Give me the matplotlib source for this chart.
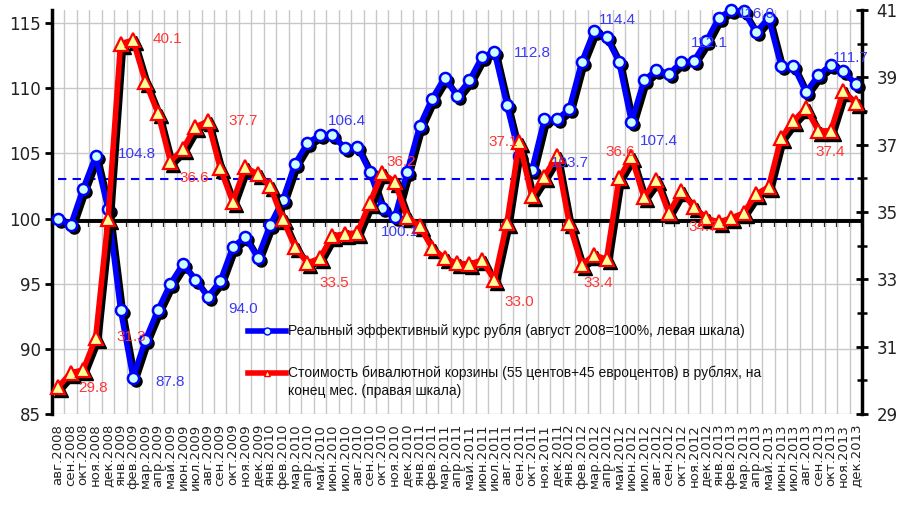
import numpy as np
import matplotlib
matplotlib.use("Agg")
import matplotlib.pyplot as plt
from matplotlib.lines import Line2D
from matplotlib.transforms import offset_copy

plt.rcParams["font.family"] = ["Liberation Sans", "DejaVu Sans"]

# ---------------- data ----------------
MONTHS = ["янв", "фев", "мар", "апр", "май", "июн",
          "июл", "авг", "сен", "окт", "ноя", "дек"]
labels = []
for year in range(2008, 2014):
    for m in MONTHS:
        labels.append(f"{m}.{year}")
labels = labels[7:]  # авг.2008 ... дек.2013

# реальный эффективный курс рубля, авг.2008 = 100 (левая шкала)
reer = [100.0, 99.5, 102.3, 104.8, 100.7, 93.0, 87.8, 90.7, 93.0, 95.0,
        96.5, 95.3, 94.0, 95.2, 97.8, 98.6, 97.0, 99.5, 101.4, 104.2,
        105.8, 106.4, 106.4, 105.4, 105.5, 103.6, 100.8, 100.1, 103.6, 107.1,
        109.2, 110.8, 109.4, 110.6, 112.4, 112.8, 108.7, 104.8, 103.7, 107.6,
        107.6, 108.4, 112.0, 114.4, 113.9, 112.0, 107.4, 110.6, 111.4, 111.1,
        112.0, 112.1, 113.6, 115.4, 116.0, 115.9, 114.3, 115.4, 111.7, 111.7,
        109.7, 111.0, 111.8, 111.3, 110.3]

# стоимость бивалютной корзины, руб. (правая шкала)
basket = [29.8, 30.22, 30.31, 31.25, 34.8, 40.0, 40.1, 38.86, 37.94, 36.5,
          36.87, 37.52, 37.7, 36.3, 35.3, 36.33, 36.13, 35.77, 34.8, 33.96,
          33.48, 33.63, 34.29, 34.35, 34.38, 35.27, 36.16, 35.9, 34.86, 34.58,
          33.93, 33.63, 33.48, 33.45, 33.57, 32.98, 34.67, 37.08, 35.47, 36.05,
          36.66, 34.67, 33.43, 33.72, 33.6, 36.0, 36.63, 35.44, 35.95, 34.97,
          35.62, 35.15, 34.82, 34.7, 34.82, 34.97, 35.53, 35.74, 37.2, 37.7,
          38.09, 37.41, 37.41, 38.59, 38.24]

reer_mean = 103.0
base_line = 99.8

# подписи: (индекс точки, текст, сдвиг x, сдвиг y в пикселях)
reer_notes = [(3, "104.8", 22, -2), (6, "87.8", 22, 4), (12, "94.0", 20, 12),
              (21, "106.4", 8, -14), (27, "100.1", -14, 15), (35, "112.8", 19, 1),
              (38, "103.7", 19, -7), (43, "114.4", 5, -11), (46, "107.4", 8, 19),
              (51, "112.1", -3, -18), (55, "116.0", -6, 3), (63, "111.7", -10, -13)]
basket_notes = [(0, "29.8", 20, 1), (3, "31.3", 21, -1), (6, "40.1", 20, -1),
                (9, "36.6", 9, 16), (12, "37.7", 21, 0), (20, "33.5", 12, 20),
                (26, "36.2", 4, -11), (35, "33.0", 10, 22), (37, "37.1", -31, 0),
                (42, "33.4", 2, 18), (46, "36.6", -26, -5), (53, "34.7", -30, 5),
                (62, "37.4", -15, 21)]

legend_reer = "Реальный эффективный курс рубля (август 2008=100%, левая шкала)"
legend_basket = ("Стоимость бивалютной корзины (55 центов+45 евроцентов) в рублях, на\n"
                 "конец мес. (правая шкала)")

# ---------------- plot ----------------
W, H = 903, 505
fig = plt.figure(figsize=(W / 100, H / 100), dpi=100)
ax = fig.add_axes([52 / W, (H - 414) / H, (862 - 52) / W, (414 - 10) / H])
ax2 = ax.twinx()

x = np.arange(len(labels))
BLUE, RED = "#0000ff", "#ff0000"
BLUE_TXT, RED_TXT = "#3a3af5", "#ff3535"
AXIS_FONT = ["DejaVu Sans"]

ax.set_xlim(-0.5, len(labels) - 0.5)
ax.set_ylim(85, 116)
ax2.set_ylim(29, 41)

# grid
ax.set_yticks(np.arange(85, 116, 5))
ax.set_xticks(x)
ax.set_xticks(np.arange(-0.5, len(labels), 1), minor=True)
ax.grid(True, which="major", axis="y", color="#c8c8c8", lw=1)
ax.grid(True, which="minor", axis="x", color="#c8c8c8", lw=1)
ax.set_axisbelow(True)

ax.set_xticklabels(labels, rotation=90, fontsize=9.5, color="#222222",
                   family=AXIS_FONT)
ax.tick_params(axis="x", which="both", length=0, pad=7)
ax.tick_params(axis="y", direction="out", length=5, width=2, color="k",
               labelsize=12, labelcolor="#222222", pad=3)
for t in ax.get_yticklabels():
    t.set_family(AXIS_FONT)

for s in ["top", "bottom", "right"]:
    ax.spines[s].set_visible(False)
ax.spines["left"].set_linewidth(2.5)
for s in ["top", "bottom", "left"]:
    ax2.spines[s].set_visible(False)
ax2.spines["right"].set_linewidth(2.5)

ax2.set_yticks(np.arange(29, 42, 2))
ax2.set_yticks(np.arange(29, 42, 1), minor=True)
ax2.tick_params(axis="y", which="major", direction="inout", length=9, width=2,
                labelsize=12, labelcolor="#222222", pad=6)
ax2.tick_params(axis="y", which="minor", direction="inout", length=7, width=1.8)
for t in ax2.get_yticklabels():
    t.set_family(AXIS_FONT)

# horizontal black line at base value with small ticks
ax.axhline(base_line, color="k", lw=2.8, zorder=2)
sec = ax.secondary_xaxis(base_line, transform=ax.transData)
sec.set_xticks(np.arange(-0.5, len(labels), 1))
sec.tick_params(direction="in", length=4, width=1.6, labeltop=False, labelbottom=False)
sec.spines["top"].set_visible(False)
sec.spines["bottom"].set_visible(False)

# dashed mean line
ax.plot([0, len(labels) - 0.5], [reer_mean, reer_mean], color=BLUE, lw=1.5,
        ls=(0, (4, 3)), zorder=2)

# series with shadow
sh1 = offset_copy(ax.transData, fig=fig, x=3, y=-3, units="dots")
ax.plot(x, reer, color="k", lw=4, marker="o", ms=8, mfc="k", mec="k",
        transform=sh1, zorder=3, clip_on=False)
ax.plot(x, reer, color=BLUE, lw=4, marker="o", ms=8, mfc="#ccffff", mec=BLUE,
        mew=1.8, zorder=4, clip_on=False)

sh2 = offset_copy(ax2.transData, fig=fig, x=3, y=-3, units="dots")
ax2.plot(x, basket, color="k", lw=4, marker="^", ms=10, mfc="k", mec="k",
         transform=sh2, zorder=3, clip_on=False)
ax2.plot(x, basket, color=RED, lw=4, marker="^", ms=10, mfc="#ffff99", mec=RED,
         mew=1.6, zorder=4, clip_on=False)

# data labels
for i, txt, dx, dy in reer_notes:
    ax2.annotate(txt, xy=(i, reer[i]), xycoords=ax.transData, xytext=(dx, -dy),
                 textcoords="offset pixels", ha="left", va="center",
                 fontsize=11, color=BLUE_TXT, zorder=10, annotation_clip=False)
for i, txt, dx, dy in basket_notes:
    ax2.annotate(txt, xy=(i, basket[i]), xycoords=ax2.transData, xytext=(dx, -dy),
                 textcoords="offset pixels", ha="left", va="center",
                 fontsize=11, color=RED_TXT, zorder=10, annotation_clip=False)

# legend (no frame)
def px(xp, yp):
    return xp / W, 1 - yp / H

for yp, col, mk, mf in [(331, BLUE, "o", "#ccffff"), (373, RED, "^", "#ffff99")]:
    x0, y0 = px(248, yp)
    x1, _ = px(286, yp)
    fig.add_artist(Line2D([x0, (x0 + x1) / 2, x1], [y0, y0, y0], transform=fig.transFigure,
                          color=col, lw=4, marker=mk, ms=5, mfc=mf, mec=col,
                          markevery=[1]))
fig.text(*px(288, 331), legend_reer, va="center", ha="left", fontsize=10, color="#111111")
fig.text(*px(288, 366), legend_basket, va="top", ha="left", fontsize=10,
         color="#111111", linespacing=1.35)

fig.savefig("out.png", dpi=100)
